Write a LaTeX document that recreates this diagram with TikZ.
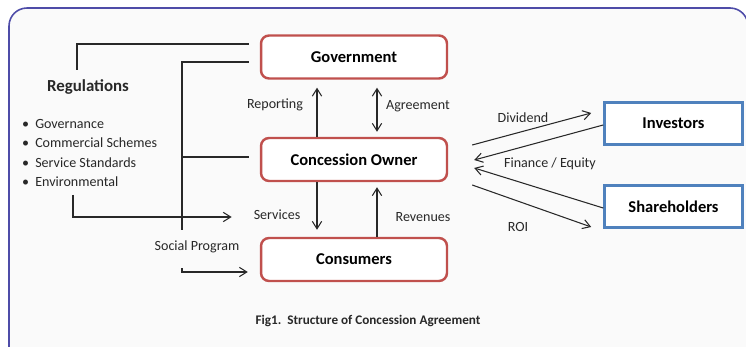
\documentclass[tikz,border=0pt]{standalone}
\usepackage{fontspec}
\setmainfont{Carlito}
\usetikzlibrary{arrows.meta}
\definecolor{boxred}{RGB}{192,80,77}
\definecolor{boxblue}{RGB}{79,129,189}
\definecolor{framecol}{RGB}{78,76,168}
\definecolor{inkgray}{RGB}{40,40,40}
\tikzset{
  redbox/.style={draw=boxred, line width=1.4pt, rounded corners=0.16cm, fill=white,
    minimum width=3.72cm, minimum height=0.86cm, font=\fontsize{9.4}{11}\selectfont\bfseries},
  bluebox/.style={draw=boxblue, line width=1.5pt, fill=white,
    minimum width=2.76cm, minimum height=0.84cm, font=\fontsize{9.4}{11}\selectfont\bfseries},
  lbl/.style={inner sep=1pt, text=inkgray, font=\fontsize{8}{10}\selectfont},
  arr/.style={draw=inkgray, line width=0.6pt, -{Straight Barb[angle=64:5pt]}},
  dblarr/.style={draw=inkgray, line width=0.6pt, {Straight Barb[angle=64:5pt]}-{Straight Barb[angle=64:5pt]}},
  link/.style={draw=inkgray, line width=0.6pt}
}
\begin{document}
\begin{tikzpicture}[x=0.02cm, y=-0.02cm]
  \useasboundingbox (0,0) rectangle (746,347);
  \clip (0,0) rectangle (746,347);
  \draw[framecol, line width=0.9pt, fill=gray!4, rounded corners=0.36cm] (9,8) rectangle (748,368);

  % boxes
  \node[redbox] (gov) at (354,57) {Government};
  \node[redbox] (owner) at (354,159.5) {Concession Owner};
  \node[redbox] (cons) at (354,259.5) {Consumers};
  \node[bluebox] (inv) at (673.5,123.5) {Investors};
  \node[bluebox] (share) at (673.5,206.5) {Shareholders};

  % regulations and its list
  \node[lbl, font=\fontsize{9.6}{11}\selectfont\bfseries] (regs) at (88,87) {Regulations};
  \foreach \item [count=\i] in {Governance, Commercial Schemes, Service Standards, Environmental}
    \node[lbl, anchor=west] (item\i) at (20,104+19.5*\i) {\textbullet\hspace{3.5pt}\item};

  % labels
  \node[lbl] (reporting) at (275,105) {Reporting};
  \node[lbl] (agreement) at (418,106) {Agreement};
  \node[lbl] (services) at (277,215) {Services};
  \node[lbl] (revenues) at (423,217) {Revenues};
  \node[lbl] (social) at (197,247) {Social Program};
  \node[lbl] (dividend) at (523,118) {Dividend};
  \node[lbl] (finance) at (550,164) {Finance / Equity};
  \node[lbl] (roi) at (518,227) {ROI};
  \node[lbl, font=\fontsize{7.5}{9}\selectfont\bfseries] (caption) at (368,321) {Fig1.\ \ Structure of Concession Agreement};

  \coordinate (regtop) at (77,70);
  \coordinate (spine) at (182,230);
  \coordinate (envtop) at (73,195);
  \coordinate (socstart) at (182,268);

  % regulation lines
  \begin{scope}[link]
    \draw (regtop) |- ([xshift=-0.22cm,yshift=0.26cm]gov.west);
    \draw ([xshift=-0.22cm,yshift=-0.1cm]gov.west) -| (spine);
    \draw ([xshift=-0.22cm,yshift=0.05cm]owner.west) -- ([yshift=0.05cm]owner.west -| spine);
    \draw[arr] (envtop) |- ([xshift=-0.4cm,yshift=-0.04cm]services.west);
    \draw[arr] (socstart) |- ([xshift=-0.24cm,yshift=-0.25cm]cons.west);
  \end{scope}

  % flows between the boxes
  \begin{scope}[arr]
    \draw ([xshift=-0.74cm]owner.north) -- ([xshift=-0.74cm,yshift=-0.16cm]gov.south);
    \draw[dblarr] ([xshift=0.46cm,yshift=-0.16cm]gov.south) -- ([xshift=0.46cm,yshift=0.1cm]owner.north);
    \draw ([xshift=-0.74cm]owner.south) -- ([xshift=-0.74cm,yshift=0.14cm]cons.north);
    \draw ([xshift=0.46cm]cons.north) -- ([xshift=0.46cm,yshift=-0.1cm]owner.south);
    \draw ([xshift=0.48cm,yshift=0.29cm]owner.east) -- ([xshift=-0.24cm,yshift=0.21cm]inv.west);
    \draw ([yshift=-0.03cm]inv.west) -- ([xshift=0.52cm,yshift=-0.01cm]owner.east);
    \draw ([yshift=-0.03cm]share.west) -- ([xshift=0.52cm,yshift=-0.17cm]owner.east);
    \draw ([xshift=0.48cm,yshift=-0.51cm]owner.east) -- ([xshift=-0.24cm,yshift=-0.41cm]share.west);
  \end{scope}
\end{tikzpicture}
\end{document}
